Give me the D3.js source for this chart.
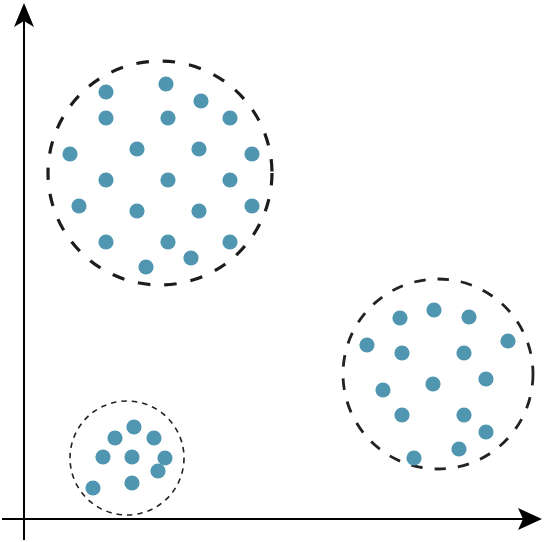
<!DOCTYPE html>
<html><head><meta charset="utf-8">
<script src="https://cdn.jsdelivr.net/npm/d3@7"></script>
<style>html,body{margin:0;padding:0;background:#fff;}svg{display:block;}</style>
</head><body>
<svg id="chart" width="554" height="542"></svg>
<script>
// Point coordinates (data units: distance right of / above the axis origin)
const clusterA_x = [82,142,177,82,144,206,46,113,175,228,82,144,206,55,113,175,228,82,144,206,167,122];
const clusterA_y = [427,435,418,401,401,401,365,370,370,365,339,339,339,313,308,308,313,277,277,277,261,252];
const clusterB_x = [376,410,445,343,484,378,440,462,409,359,378,440,462,435,390];
const clusterB_y = [201,209,202,174,178,166,166,140,135,129,104,104,87,70,61];
const clusterC_x = [110,91,130,79,108,141,134,108,69];
const clusterC_y = [92,81,81,62,62,61,48,36,31];
// Enclosing circles: centre x, centre y, radius (data units)
const circleCx = [136, 414, 103];
const circleCy = [346, 145, 61];
const circleR  = [112, 95, 57];

const svg = d3.select("#chart");
const x = d3.scaleLinear().domain([0, 518]).range([24, 542]);
const y = d3.scaleLinear().domain([0, 516]).range([519, 3]);

// axes
svg.append("line").attr("x1", 2).attr("x2", 525).attr("y1", y(0)).attr("y2", y(0))
  .attr("stroke", "#000").attr("stroke-width", 2);
svg.append("line").attr("x1", x(0)).attr("x2", x(0)).attr("y1", 540).attr("y2", 18)
  .attr("stroke", "#000").attr("stroke-width", 2);
// arrowheads
const tx = x(518), ty = y(0);
svg.append("path").attr("d", `M${tx},${ty} L${tx-24},${ty-11} L${tx-19},${ty} L${tx-24},${ty+11} Z`).attr("fill", "#000");
const ux = x(0), uy = y(516);
svg.append("path").attr("d", `M${ux},${uy} L${ux-10},${uy+24} L${ux},${uy+18} L${ux+10},${uy+24} Z`).attr("fill", "#000");

// dashed circles
const styles = [
  {w: 3.2, dash: "12.5,14", col: "#1c1c1c"},
  {w: 2.8, dash: "11.5,12", col: "#222"},
  {w: 1.6, dash: "5.5,5", col: "#222"}
];
const circles = circleCx.map((c, i) => ({cx: c, cy: circleCy[i], r: circleR[i], i}));
svg.selectAll("circle.cl").data(circles).enter().append("circle")
  .attr("class", "cl")
  .attr("cx", d => x(d.cx)).attr("cy", d => y(d.cy))
  .attr("r", d => x(d.r) - x(0))
  .attr("fill", "none").attr("stroke", d => styles[d.i].col)
  .attr("stroke-width", d => styles[d.i].w)
  .attr("stroke-dasharray", d => styles[d.i].dash);

// points
const pts = [];
[[clusterA_x, clusterA_y], [clusterB_x, clusterB_y], [clusterC_x, clusterC_y]].forEach(([xs, ys]) => {
  xs.forEach((v, i) => pts.push({x: v, y: ys[i]}));
});
svg.selectAll("circle.pt").data(pts).enter().append("circle")
  .attr("class", "pt")
  .attr("cx", d => x(d.x)).attr("cy", d => y(d.y)).attr("r", 7.6)
  .attr("fill", "#5096b0");
</script>
</body></html>
